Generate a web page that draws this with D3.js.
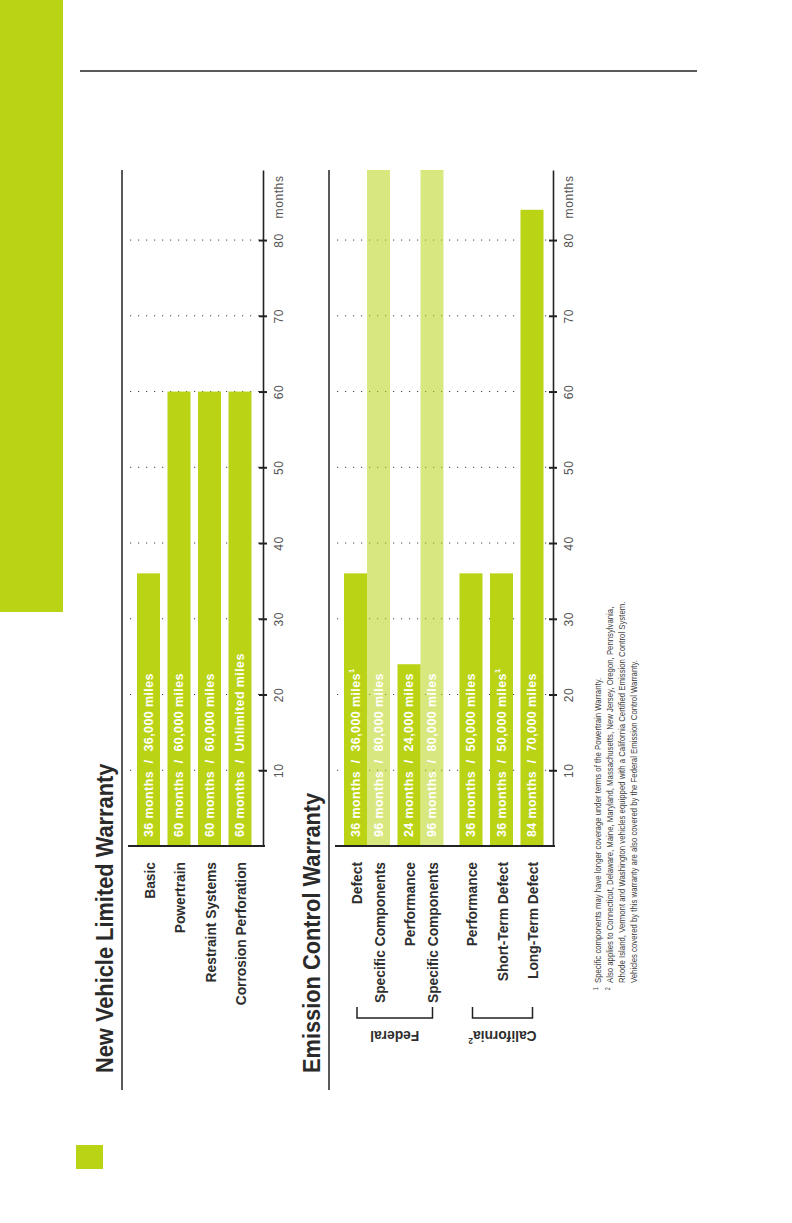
<!DOCTYPE html>
<html>
<head>
<meta charset="utf-8">
<script src="https://cdn.jsdelivr.net/npm/d3@7"></script>
<style>
  html, body { margin: 0; padding: 0; background: #fff; }
  svg { display: block; }
</style>
</head>
<body>
<script>
// New Vehicle Limited Warranty
const nvCategories = ["Basic", "Powertrain", "Restraint Systems", "Corrosion Perforation"];
const nvMonths = [36, 60, 60, 60];
const nvLabels = ["36 months  /  36,000 miles", "60 months  /  60,000 miles", "60 months  /  60,000 miles", "60 months  /  Unlimited miles"];
const nvNotes = ["", "", "", ""];

// Emission Control Warranty
const ecCategories = ["Defect", "Specific Components", "Performance", "Specific Components", "Performance", "Short-Term Defect", "Long-Term Defect"];
const ecMonths = [36, 96, 24, 96, 36, 36, 84];
const ecLabels = ["36 months  /  36,000 miles", "96 months  /  80,000 miles", "24 months  /  24,000 miles", "96 months  /  80,000 miles", "36 months  /  50,000 miles", "36 months  /  50,000 miles", "84 months  /  70,000 miles"];
const ecNotes = ["1", "", "", "", "", "1", ""];
const ecGroups = ["Federal", "Federal", "Federal", "Federal", "California", "California", "California"];
const ecSpecific = [false, true, false, true, false, false, false];
const groupNames = ["Federal", "California"];
const groupNotes = ["", "2"];

const monthTicks = [10, 20, 30, 40, 50, 60, 70, 80];
const footnotes = [
    {mark: "1", text: "Specific components may have longer coverage under terms of the Powertrain Warranty."},
    {mark: "2", text: "Also applies to Connecticut, Delaware, Maine, Maryland, Massachusetts, New Jersey, Oregon, Pennsylvania,"},
    {mark: "", text: "Rhode Island, Vermont and Washington vehicles equipped with a California Certified Emission Control System."},
    {mark: "", text: "Vehicles covered by this warranty are also covered by the Federal Emission Control Warranty."}
];

const FONT = "'Liberation Sans', Arial, Helvetica, sans-serif";
const GREEN = "#bad415";
const INK = "#2e2e2e";

const width = 792;
const height = 1223;

const svg = d3.select("body").append("svg")
    .attr("width", width)
    .attr("height", height);

// page decoration
svg.append("rect").attr("x", 0).attr("y", 0).attr("width", 63).attr("height", 612).attr("fill", GREEN);
svg.append("rect").attr("x", 76).attr("y", 1145).attr("width", 27).attr("height", 24).attr("fill", GREEN);
svg.append("line").attr("x1", 80).attr("x2", 697).attr("y1", 71).attr("y2", 71)
    .attr("stroke", "#222").attr("stroke-width", 1.5);

// months run up the page (chart is printed sideways)
const y = d3.scaleLinear().domain([0, 89.25]).range([846, 170]).clamp(true);

const barW = 23;
const rowGap = 7.5;
const groupGap = 16;

function layoutRows(n, startX, groups, attached) {
    const xs = [];
    let x = startX;
    for (let i = 0; i < n; i++) {
        if (i > 0) {
            if (attached && attached[i]) x += barW;
            else if (groups && groups[i] !== groups[i - 1]) x += barW + groupGap;
            else x += barW + rowGap;
        }
        xs.push(x);
    }
    return xs;
}

// sideways text; sx squeezes glyphs to imitate the condensed face of the print
function rotText(g, x, yy, txt, opts) {
    const rot = opts.rotate === undefined ? -90 : opts.rotate;
    const t = g.append("text")
        .attr("transform", `translate(${x},${yy}) rotate(${rot}) scale(${opts.sx || 1},1)`)
        .attr("text-anchor", opts.anchor || "start")
        .attr("fill", opts.fill || INK)
        .style("font-family", FONT)
        .style("font-size", opts.size + "px")
        .style("font-weight", opts.weight || "normal")
        .style("letter-spacing", (opts.spacing || 0) + "px")
        .style("white-space", "pre");
    t.append("tspan").text(txt);
    if (opts.note) {
        t.append("tspan").attr("dy", -opts.size * 0.45)
            .style("font-size", (opts.size * 0.6) + "px")
            .text(opts.note);
    }
    return t;
}

function drawSection(cfg) {
    const g = svg.append("g");
    const xs = layoutRows(cfg.categories.length, cfg.left + 9, cfg.groups, cfg.attached);

    // title + rule
    rotText(g, cfg.ruleX - 9, 1073, cfg.title, {size: 24.5, weight: "bold", sx: 0.89, fill: "#2a2a2a"});
    g.append("line").attr("x1", cfg.ruleX).attr("x2", cfg.ruleX).attr("y1", y.range()[1]).attr("y2", 1090)
        .attr("stroke", "#222").attr("stroke-width", 1.5);

    // dotted grid
    g.append("g").selectAll("line")
        .data(monthTicks)
        .join("line")
        .attr("x1", cfg.left + 2).attr("x2", cfg.axisX)
        .attr("y1", d => y(d)).attr("y2", d => y(d))
        .attr("stroke", "#444").attr("stroke-width", 1)
        .attr("stroke-dasharray", "1.2,6.8");

    // bars
    g.append("g").selectAll("rect")
        .data(cfg.months)
        .join("rect")
        .attr("x", (d, i) => xs[i])
        .attr("width", barW)
        .attr("y", d => y(d))
        .attr("height", d => y(0) - y(d))
        .attr("fill", GREEN)
        .attr("fill-opacity", (d, i) => cfg.attached && cfg.attached[i] ? 0.55 : 1);

    // bar value labels
    cfg.labels.forEach((lab, i) => {
        rotText(g, xs[i] + barW / 2 + 4.4, y(0) - 9, lab, {
            size: 12.4, weight: "bold", spacing: 0.45, fill: "#fff", note: cfg.notes[i]
        });
    });

    // category labels
    cfg.categories.forEach((c, i) => {
        rotText(g, xs[i] + barW / 2 + 6, y(0) + 16, c, {size: 15, weight: "bold", sx: 0.92, anchor: "end"});
    });

    // baseline
    g.append("line").attr("x1", cfg.left).attr("x2", cfg.axisX + 2)
        .attr("y1", y(0)).attr("y2", y(0))
        .attr("stroke", "#222").attr("stroke-width", 2);

    // month axis
    const ax = g.append("g")
        .attr("transform", `translate(${cfg.axisX},0)`)
        .call(d3.axisRight(y).tickValues(monthTicks).tickSizeInner(4).tickSizeOuter(0));
    ax.attr("font-family", null).attr("font-size", null);
    ax.select(".domain").attr("stroke", "#222").attr("stroke-width", 1.6);
    ax.selectAll(".tick line").attr("x1", -4).attr("x2", 4).attr("stroke", "#222").attr("stroke-width", 2);
    ax.selectAll(".tick text")
        .attr("x", null).attr("dy", null)
        .attr("text-anchor", "middle")
        .attr("transform", "translate(20,0) rotate(-90)")
        .attr("fill", "#555")
        .style("font-family", FONT)
        .style("font-size", "12px")
        .style("letter-spacing", "0.6px");
    rotText(g, cfg.axisX + 20, y.range()[1] + 27, "months", {size: 12, spacing: 0.6, anchor: "middle", fill: "#555"});

    // group brackets
    if (cfg.groups) {
        groupNames.forEach((name, gi) => {
            const idx = cfg.groups.map((d, i) => d === name ? i : -1).filter(i => i >= 0);
            const x0 = xs[idx[0]] + 13;
            const x1 = xs[idx[idx.length - 1]] + barW - 11;
            g.append("path")
                .attr("d", `M${x0},1007V1018H${x1}V1007`)
                .attr("fill", "none").attr("stroke", "#222").attr("stroke-width", 1.5);
            rotText(g, (x0 + x1) / 2, 1031, name, {
                size: 15, weight: "bold", sx: 0.92, anchor: "middle", rotate: 180, note: groupNotes[gi]
            });
        });
    }
}

drawSection({
    title: "New Vehicle Limited Warranty",
    ruleX: 122, left: 128, axisX: 263,
    categories: nvCategories, months: nvMonths, labels: nvLabels, notes: nvNotes
});

drawSection({
    title: "Emission Control Warranty",
    ruleX: 329, left: 335, axisX: 553,
    categories: ecCategories, months: ecMonths, labels: ecLabels, notes: ecNotes,
    groups: ecGroups, attached: ecSpecific
});

// footnotes
const fn = svg.append("g");
footnotes.forEach((f, i) => {
    const t = fn.append("text")
        .attr("transform", `translate(${601 + i * 12},983) rotate(-90) scale(0.82,1)`)
        .attr("fill", "#3a3a3a")
        .style("font-family", FONT)
        .style("font-size", "9.5px");
    if (f.mark) {
        t.append("tspan").attr("x", -9).attr("dy", -3).style("font-size", "6.5px").text(f.mark);
        t.append("tspan").attr("x", 0).attr("dy", 3).text(f.text);
    } else {
        t.append("tspan").attr("x", 0).text(f.text);
    }
});
</script>
</body>
</html>
